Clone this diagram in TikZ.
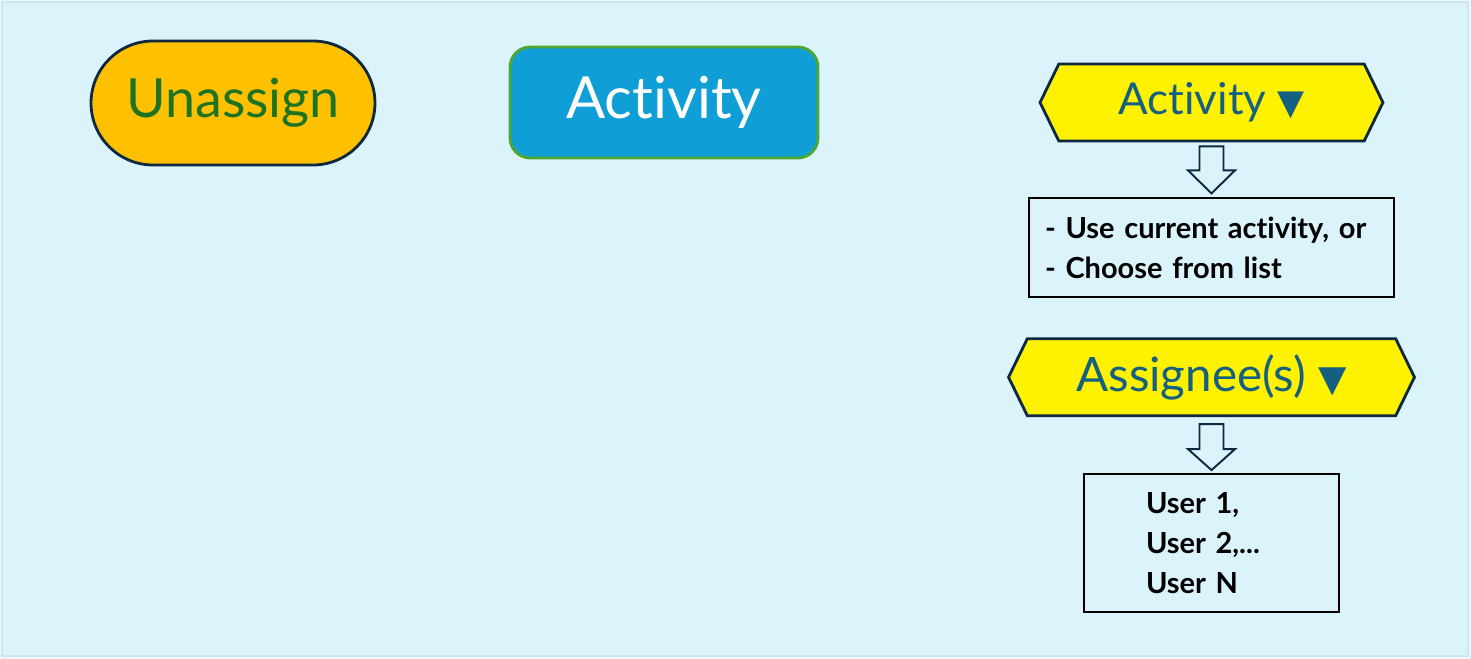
\documentclass[tikz,border=0pt]{standalone}
\usepackage{fontspec}
\setmainfont[Ligatures=NoCommon]{Lato}
\newfontfamily\symfont{DejaVu Sans}
\usetikzlibrary{shapes.symbols}
\usetikzlibrary{positioning}
\usetikzlibrary{calc}

\definecolor{outerbg}{HTML}{F1F5F7}
\definecolor{panelbg}{HTML}{DBF3FA}
\definecolor{panelrim}{HTML}{CBE8F1}
\definecolor{darknavy}{HTML}{0E2841}
\definecolor{amber}{HTML}{FFC000}
\definecolor{leafgreen}{HTML}{1E7323}
\definecolor{skyblue}{HTML}{0F9ED5}
\definecolor{grassgreen}{HTML}{4EA72E}
\definecolor{steelblue}{HTML}{156082}

\begin{document}
\begin{tikzpicture}[x=0.02cm, y=-0.02cm,
    hexbox/.style = {signal, signal to=west and east, signal pointer angle=128,
        draw=darknavy, line width=1.6pt, fill=yellow, text=steelblue,
        inner sep=0pt, minimum height=1.54cm},
    listbox/.style = {draw=black, line width=1.1pt, align=left,
        font=\fontsize{16.5pt}{22.7pt}\selectfont\bfseries},
    blockarr/.style = {draw=darknavy, line width=1.1pt, fill=panelbg}]
    \useasboundingbox (0,0) rectangle (1471,659);
    \fill[outerbg] (0,0) rectangle (1471,659);
    \draw[panelrim, fill=panelbg, line width=1pt] (2,2) rectangle (1468,656);

    % left buttons
    \node [draw=darknavy, line width=1.6pt, fill=amber, text=leafgreen,
        rounded corners=1.24cm, minimum width=5.68cm, minimum height=2.48cm,
        font=\fontsize{30.7pt}{36pt}\selectfont] (unassign) at (233,103) {Unassign};
    \node [draw=grassgreen, line width=1.6pt, fill=skyblue, text=white,
        rounded corners=0.4cm, minimum width=6.16cm, minimum height=2.22cm,
        font=\fontsize{33pt}{38pt}\selectfont] (activity) at (664,102.5) {Activity};

    % right column
    \node [hexbox, minimum width=6.86cm, font=\fontsize{25pt}{30pt}\selectfont]
        (pickact) at (1211.5,102.5) {Activity {\symfont\fontsize{20pt}{24pt}\selectfont ▼}};
    \node [listbox, below=1.10cm of pickact, text width=6.66cm, inner xsep=0.32cm,
        minimum height=1.98cm] (actlist) {- Use current activity, or\\- Choose from list};
    \node [hexbox, below=0.78cm of actlist, minimum width=8.12cm,
        font=\fontsize{27pt}{32pt}\selectfont]
        (pickuser) {Assignee(s) {\symfont\fontsize{21pt}{25pt}\selectfont ▼}};
    \node [listbox, below=1.12cm of pickuser, text width=2.62cm, inner xsep=1.24cm,
        minimum height=2.76cm] (userlist) {User 1,\\User 2,...\\User N};

    % block arrows
    \draw[blockarr] ($(pickact.south)+(-12,4)$) -- ++(24,0) -- ++(0,24) -- ++(11.5,0)
        -- ++(-23.5,23) -- ++(-23.5,-23) -- ++(11.5,0) -- cycle;
    \draw[blockarr] ($(pickuser.south)+(-12,7)$) -- ++(24,0) -- ++(0,25) -- ++(11.5,0)
        -- ++(-23.5,21) -- ++(-23.5,-21) -- ++(11.5,0) -- cycle;
\end{tikzpicture}
\end{document}
